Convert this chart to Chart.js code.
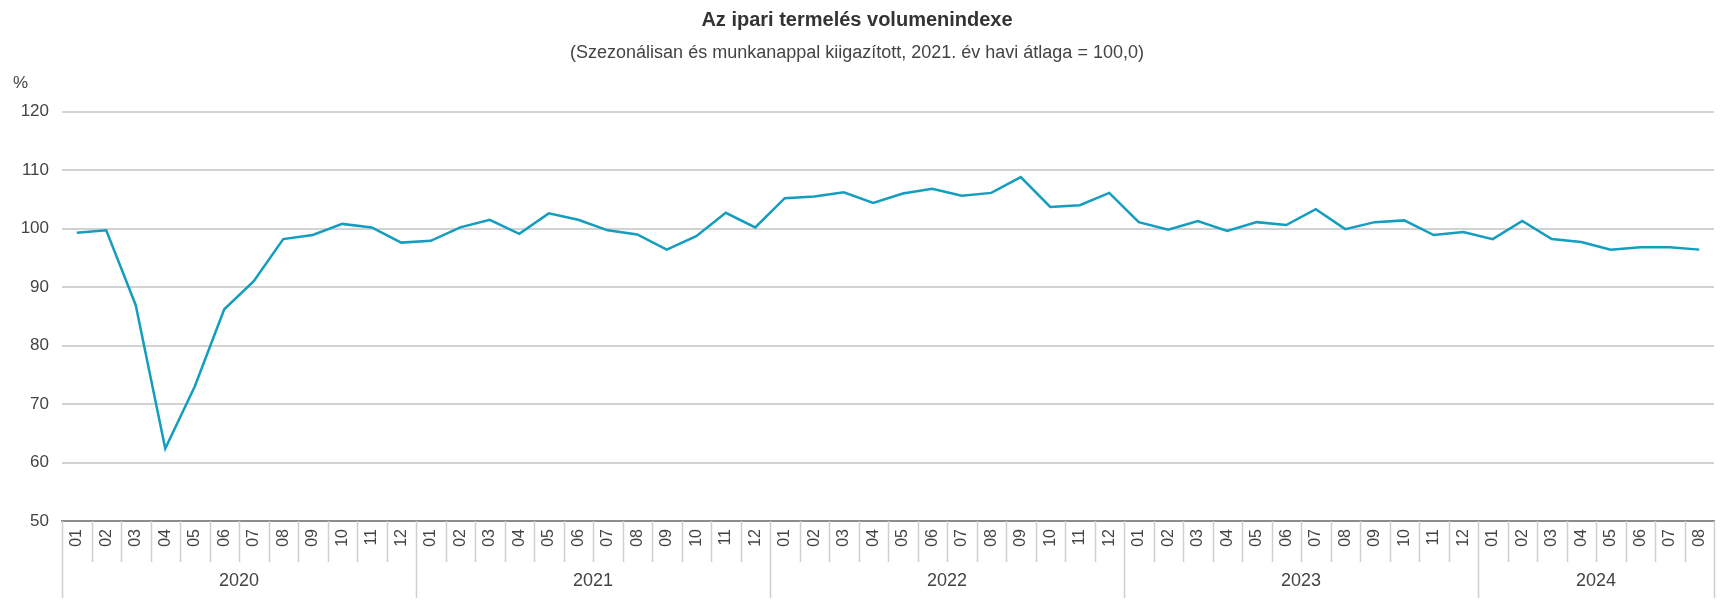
<!DOCTYPE html>
<html>
<head>
<meta charset="utf-8">
<script src="https://cdn.jsdelivr.net/npm/chart.js@4/dist/chart.umd.min.js"></script>
<style>
  html, body { margin: 0; padding: 0; background: #fff; }
  #wrap { width: 1721px; height: 612px; position: relative; }
</style>
</head>
<body>
<div id="wrap"><canvas id="chart"></canvas></div>
<script>
'use strict';

// ── Data ──────────────────────────────────────────────────────
const years       = ['2020', '2021', '2022', '2023', '2024'];
const yearMonths  = [12, 12, 12, 12, 8];
const monthNames  = ['01', '02', '03', '04', '05', '06', '07', '08', '09', '10', '11', '12'];
const yTicks      = [50, 60, 70, 80, 90, 100, 110, 120];

const volumeIndex = [
  99.3, 99.7, 86.9, 62.4, 73.0, 86.2, 91.0, 98.2, 98.9, 100.8, 100.2, 97.6,
  97.9, 100.2, 101.5, 99.1, 102.6, 101.5, 99.7, 99.0, 96.4, 98.7, 102.7, 100.2,
  105.2, 105.5, 106.2, 104.4, 106.0, 106.8, 105.6, 106.1, 108.8, 103.7, 104.0, 106.1,
  101.1, 99.8, 101.3, 99.6, 101.1, 100.6, 103.3, 99.9, 101.1, 101.4, 98.9, 99.4,
  98.2, 101.3, 98.2, 97.7, 96.4, 96.8, 96.8, 96.4
];

const labels = [];
years.forEach((y, yi) => {
  for (let m = 0; m < yearMonths[yi]; m++) labels.push(monthNames[m]);
});

const FONT = '"Liberation Sans", Arial, sans-serif';
const TEXT = '#444';

// ── Year row + category separators ────────────────────────────
const yearAxis = {
  id: 'yearAxis',
  afterDraw(chart) {
    const x = chart.scales.x;
    const ctx = chart.ctx;
    const bottom = chart.chartArea.bottom;
    const step = x.getPixelForValue(1) - x.getPixelForValue(0);
    const edge = i => x.getPixelForValue(i) - step / 2;

    ctx.save();
    ctx.strokeStyle = '#cfcfcf';
    ctx.lineWidth = 1.5;
    // year start indexes
    const starts = [0];
    yearMonths.forEach(n => starts.push(starts[starts.length - 1] + n));
    for (let i = 0; i <= labels.length; i++) {
      const isYear = starts.includes(i);
      const px = Math.round(edge(i)) + 0.5;
      ctx.beginPath();
      ctx.moveTo(px, bottom);
      ctx.lineTo(px, bottom + (isYear ? 77 : 41));
      ctx.stroke();
    }
    ctx.fillStyle = TEXT;
    ctx.font = '18px ' + FONT;
    ctx.textAlign = 'center';
    ctx.textBaseline = 'middle';
    years.forEach((y, yi) => {
      const cx = (edge(starts[yi]) + edge(starts[yi + 1])) / 2;
      ctx.fillText(y, cx, bottom + 60);
    });
    // axis unit
    ctx.textAlign = 'left';
    ctx.font = '17px ' + FONT;
    ctx.fillText('%', 13, 83);
    ctx.restore();
  }
};

// ── Chart ─────────────────────────────────────────────────────
new Chart(document.getElementById('chart'), {
  type: 'line',
  data: {
    labels,
    datasets: [{
      data: volumeIndex,
      borderColor: '#139dbf',
      borderWidth: 2.5,
      pointRadius: 0,
      tension: 0,
      fill: false
    }]
  },
  options: {
    responsive: true,
    maintainAspectRatio: false,
    animation: false,
    layout: { padding: { left: 0, right: 7, top: 0, bottom: 11 } },
    plugins: {
      legend: { display: false },
      tooltip: { enabled: false },
      title: {
        display: true,
        text: 'Az ipari termelés volumenindexe',
        color: '#333',
        font: { family: FONT, size: 20, weight: 'bold' },
        padding: { top: 8, bottom: 10 }
      },
      subtitle: {
        display: true,
        text: '(Szezonálisan és munkanappal kiigazított, 2021. év havi átlaga = 100,0)',
        color: TEXT,
        font: { family: FONT, size: 18 },
        padding: { top: 0, bottom: 48 }
      }
    },
    scales: {
      x: {
        type: 'category',
        offset: true,
        grid: { display: false, drawTicks: false },
        border: { display: true, color: '#8c8c8c', width: 2 },
        ticks: {
          autoSkip: false,
          minRotation: 90,
          maxRotation: 90,
          padding: 8,
          color: TEXT,
          font: { family: FONT, size: 16 }
        },
        afterFit: s => { s.height = 80; s.paddingLeft = 0; s.paddingRight = 0; }
      },
      y: {
        min: 50,
        max: 120,
        afterBuildTicks: s => { s.ticks = yTicks.map(v => ({ value: v })); },
        grid: { color: '#d2d2d2', lineWidth: 2, drawTicks: false },
        border: { display: false },
        ticks: {
          padding: 13,
          color: TEXT,
          font: { family: FONT, size: 17 }
        },
        afterFit: s => { s.width = 62; }
      }
    }
  },
  plugins: [yearAxis]
});
</script>
</body>
</html>
